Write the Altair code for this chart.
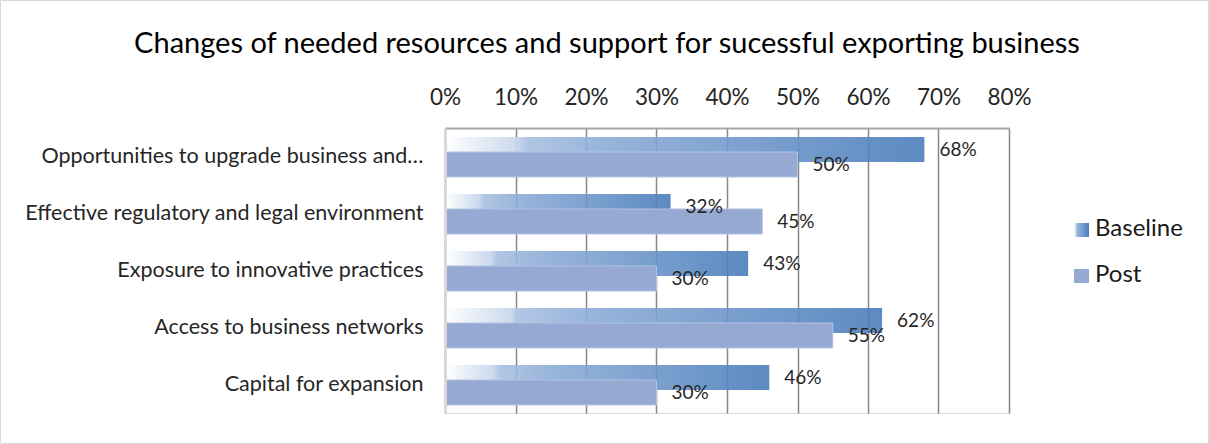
import altair as alt
import pandas as pd

categories = [
    "Opportunities to upgrade business and…",
    "Effective regulatory and legal environment",
    "Exposure to innovative practices",
    "Access to business networks",
    "Capital for expansion",
]
baseline = [68, 32, 43, 62, 46]
post = [50, 45, 30, 55, 30]
tick_values = [0, 10, 20, 30, 40, 50, 60, 70, 80]
series_names = ["Baseline", "Post"]
title_text = ["Changes of needed resources and support for sucessful exporting business"]

df = pd.DataFrame({
    "category": categories,
    "Baseline": [v / 100 for v in baseline],
    "Post": [v / 100 for v in post],
})

FONT = "Lato"
BASE_OFF = -7
POST_OFF = 8

grad = alt.Gradient(
    gradient="linear",
    stops=[
        alt.GradientStop(color="#ffffff", offset=0),
        alt.GradientStop(color="#c6d6eb", offset=0.15),
        alt.GradientStop(color="#a9c0e1", offset=0.17),
        alt.GradientStop(color="#8dadd7", offset=0.32),
        alt.GradientStop(color="#4a7dbb", offset=1),
    ],
    x1=0, x2=1, y1=0, y2=0,
)
post_color = "#95a9d3"

x_scale = alt.Scale(domain=[0, 0.8], nice=False)
y_enc = alt.Y(
    "category:N",
    sort=categories,
    scale=alt.Scale(paddingInner=0, paddingOuter=0),
    axis=alt.Axis(
        title=None, ticks=False, labelFontSize=21.5, labelFont=FONT,
        labelColor="#262626", labelPadding=22, labelLimit=600,
        domainColor="#d9d9d9", domainWidth=3, zindex=1, grid=False,
    ),
)
x_axis = alt.Axis(
    orient="top", title=None, values=[v / 100 for v in tick_values],
    format=".0%", ticks=False, labelFontSize=22.5, labelFont=FONT,
    labelColor="#262626", labelPadding=19, labelFlush=False,
    domainColor="#a6a6a6", domainWidth=2, grid=True,
    gridColor="#888888", gridWidth=1.5,
)

base = alt.Chart(df)

base_bars = base.mark_bar(height=25, yOffset=BASE_OFF, color=grad, opacity=0.9).encode(
    x=alt.X("Baseline:Q", scale=x_scale, axis=x_axis),
    y=y_enc,
)
post_bars = base.mark_bar(height=25, yOffset=POST_OFF, color=post_color,
                          stroke="#b3c2e2", strokeWidth=1).encode(
    x=alt.X("Post:Q", scale=x_scale),
    y=alt.Y("category:N", sort=categories),
)
base_text = base.mark_text(align="left", baseline="middle", dx=15, yOffset=BASE_OFF,
                           fontSize=19, font=FONT, color="#262626").encode(
    x=alt.X("Baseline:Q", scale=x_scale),
    y=alt.Y("category:N", sort=categories),
    text=alt.Text("Baseline:Q", format=".0%"),
)
post_text = base.mark_text(align="left", baseline="middle", dx=15, yOffset=POST_OFF,
                           fontSize=19, font=FONT, color="#262626").encode(
    x=alt.X("Post:Q", scale=x_scale),
    y=alt.Y("category:N", sort=categories),
    text=alt.Text("Post:Q", format=".0%"),
)

leg_df = pd.DataFrame({"name": series_names})
leg_sym1 = alt.Chart(leg_df.iloc[[0]]).mark_rect(color=grad).encode(
    x=alt.value(629), x2=alt.value(644), y=alt.value(95), y2=alt.value(109))
leg_sym2 = alt.Chart(leg_df.iloc[[1]]).mark_rect(color=post_color).encode(
    x=alt.value(629), x2=alt.value(644), y=alt.value(141), y2=alt.value(155))
leg_txt1 = alt.Chart(leg_df.iloc[[0]]).mark_text(
    align="left", baseline="middle", fontSize=24, font=FONT, color="#1a1a1a").encode(
    x=alt.value(650), y=alt.value(101), text="name:N")
leg_txt2 = alt.Chart(leg_df.iloc[[1]]).mark_text(
    align="left", baseline="middle", fontSize=24, font=FONT, color="#1a1a1a").encode(
    x=alt.value(650), y=alt.value(147), text="name:N")

title_df = pd.DataFrame({"t": title_text})
title_mark = alt.Chart(title_df).mark_text(
    align="center", baseline="alphabetic", fontSize=29, font=FONT, color="#000000").encode(
    x=alt.value(162), y=alt.value(-75), text="t:N")

border = alt.Chart(leg_df.iloc[[0]]).mark_rect(
    fillOpacity=0, stroke="#d9d9d9", strokeWidth=1).encode(
    x=alt.value(-444.5), x2=alt.value(763.5), y=alt.value(-127.5), y2=alt.value(315.5))

chart = alt.layer(
    base_bars, post_bars, base_text, post_text,
    leg_sym1, leg_sym2, leg_txt1, leg_txt2, title_mark, border,
).properties(
    width=564, height=285,
    padding={"left": 445, "top": 128, "right": 200, "bottom": 31},
    autosize=alt.AutoSizeParams(type="none"),
).configure_view(stroke=None).configure(background="white")

chart.save("out.html", embed_options={"renderer": "svg", "actions": False})
